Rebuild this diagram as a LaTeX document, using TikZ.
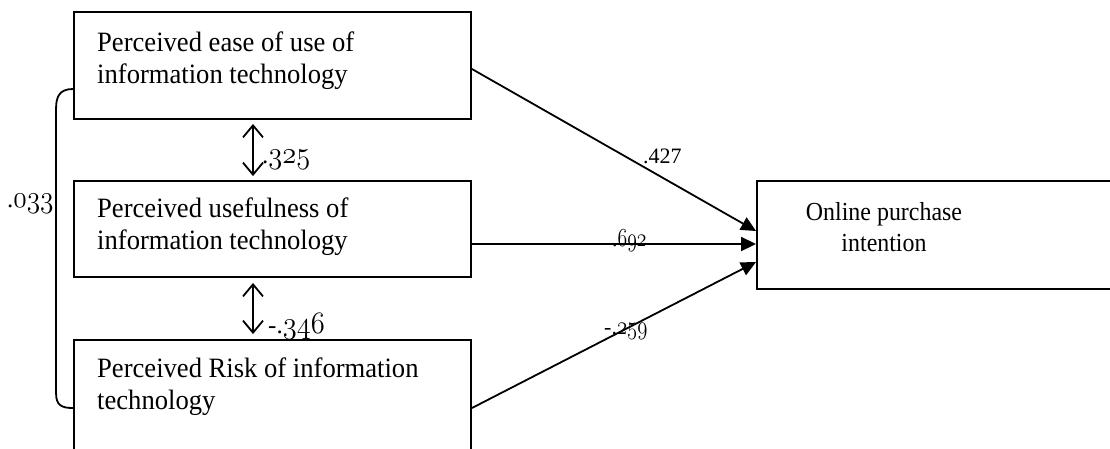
\documentclass[tikz,border=0pt]{standalone}
\usepackage{fontspec}
\setmainfont{Liberation Serif}
\newfontfamily\boxfont[FakeStretch=0.95]{Liberation Serif}
\newfontfamily\outfont[FakeStretch=0.92]{Liberation Serif}
\usetikzlibrary{arrows.meta}
\newcommand\osn[2][1.05]{\scalebox{#1}[1.25]{\fontencoding{OML}\fontfamily{lmm}\fontseries{m}\fontshape{it}\selectfont #2}}
\tikzset{
  box/.style={draw, line width=1.9pt, inner sep=0pt, minimum width=#1},
  linetext/.style={anchor=base west, inner sep=0pt, font=\boxfont\fontsize{28}{32}\selectfont},
  outtext/.style={anchor=base, inner sep=0pt, font=\outfont\fontsize{26}{32}\selectfont},
  arr/.style={line width=1.8pt, -{Triangle[length=15pt,width=14pt]}},
  dbl/.style={line width=1.8pt, {Straight Barb[length=12pt,width=20pt]}-{Straight Barb[length=12pt,width=20pt]}},
  coef/.style={anchor=base west, inner sep=0pt, font=\fontsize{25}{30}\selectfont},
  pcoef/.style={anchor=base west, inner sep=0pt, font=\fontsize{22}{26}\selectfont},
}
\begin{document}
\begin{tikzpicture}[x=1pt,y=-1pt]
\useasboundingbox (0,0) rectangle (1110,448);
\clip (0,0) rectangle (1110,448);
% boxes
\node[box=397pt, minimum height=107pt] (b1) at (272.5,65.5) {};
\node[box=397pt, minimum height=96pt] (b2) at (272.5,229) {};
\node[box=397pt, minimum height=120pt] (b3) at (272.5,400) {};
\node[box=368pt, minimum height=108pt] (out) at (941,235) {};
% texts
\node[linetext] (t11) at (97,51) {Perceived ease of use of};
\node[linetext] (t12) at (97,83) {information technology};
\node[linetext] (t21) at (97,217) {Perceived usefulness of};
\node[linetext] (t22) at (97,249) {information technology};
\node[linetext] (t31) at (97,377) {Perceived Risk of information};
\node[linetext] (t32) at (97,409) {technology};
\node[outtext] (to1) at (884,220) {Online purchase};
\node[outtext] (to2) at (884,251) {intention};
% paths to outcome
\draw[arr] ([yshift=-3.5pt]b1.east) -- ([yshift=4pt]out.west);
\draw[arr] ([yshift=-15pt]b2.east) -- ([yshift=-9pt]out.west);
\draw[arr] ([yshift=-8pt]b3.east) -- ([yshift=-27pt]out.west);
% correlations
\draw[dbl] ([xshift=-19.5pt,yshift=-4pt]b1.south) -- ([xshift=-19.5pt,yshift=4pt]b2.north);
\draw[dbl] ([xshift=-19.5pt,yshift=-5pt]b2.south) -- ([xshift=-19.5pt,yshift=5pt]b3.north);
\draw[line width=1.8pt] ([yshift=-23.5pt]b1.west) .. controls +(-14pt,0pt) and +(0pt,12pt) .. +(-17pt,-20pt)
   -- ([xshift=-17pt,yshift=7pt]b3.west) .. controls +(0pt,-12pt) and +(-12pt,0pt) .. ([yshift=-8pt]b3.west);
% coefficients
\node[coef] (c1) at (262,163) {.\osn[1.15]{325}};
\node[coef] (c2) at (268,333) {-.\osn[1.15]{346}};
\node[coef] (c3) at (7,207) {.\osn[1.1]{033}};
\node[pcoef] (c4) at (643,163) {.427};
\node[pcoef] (c5) at (612,246) {.\osn[0.95]{692}};
\node[pcoef] (c6) at (604,334) {-.\osn[1.0]{259}};
\end{tikzpicture}
\end{document}
